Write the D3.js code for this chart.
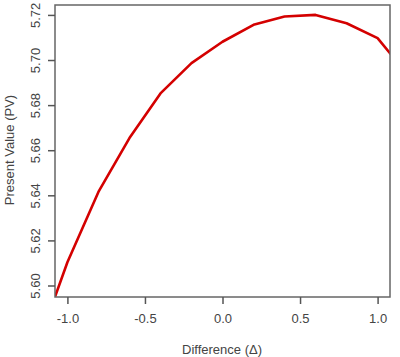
<!DOCTYPE html>
<html>
<head>
<meta charset="utf-8">
<script src="https://cdn.jsdelivr.net/npm/d3@7"></script>
<style>
  body { margin: 0; background: #fff; }
  svg text { font-family: "Liberation Sans", Arial, sans-serif; fill: #444; }
</style>
</head>
<body>
<div id="chart"></div>
<script>
// Difference (delta) values and the present value
const deltas = [-1.2, -1.0, -0.8, -0.6, -0.4, -0.2, 0.0, 0.2, 0.4, 0.6, 0.8, 1.0, 1.2]
const presentValues = [5.572, 5.6103, 5.6415, 5.6654, 5.6852, 5.6986, 5.7081, 5.7156, 5.7193, 5.7200, 5.7163, 5.7097, 5.693]

const xTicks = [-1.0, -0.5, 0.0, 0.5, 1.0]
const yTicks = [5.60, 5.62, 5.64, 5.66, 5.68, 5.70, 5.72]

const width = 400, height = 357
const plot = {left: 55, top: 5, right: 390, bottom: 297}

const xScale = d3.scaleLinear().domain([-1.08, 1.08]).range([plot.left, plot.right])
const yScale = d3.scaleLinear().domain([5.5949, 5.7244]).range([plot.bottom, plot.top])

const svg = d3.select("#chart")
  .append("svg")
  .attr("width", width)
  .attr("height", height)

svg.append("clipPath")
  .attr("id", "plotClip")
  .append("rect")
  .attr("x", plot.left)
  .attr("y", plot.top)
  .attr("width", plot.right - plot.left)
  .attr("height", plot.bottom - plot.top)

// Curve
let line = d3.line()
  .x((d, i) => xScale(deltas[i]))
  .y(d => yScale(d))

svg.append("path")
  .datum(presentValues)
  .attr("clip-path", "url(#plotClip)")
  .attr("fill", "none")
  .attr("stroke", "#d40000")
  .attr("stroke-width", 2.6)
  .attr("stroke-linejoin", "round")
  .attr("d", line)

// Box around plot region
svg.append("rect")
  .attr("x", plot.left)
  .attr("y", plot.top)
  .attr("width", plot.right - plot.left)
  .attr("height", plot.bottom - plot.top)
  .attr("fill", "none")
  .attr("stroke", "#666")
  .attr("stroke-width", 1.5)

// X axis
let xAxis = d3.axisBottom(xScale)
  .tickValues(xTicks)
  .tickFormat(d3.format(".1f"))
  .tickSize(7)
  .tickPadding(10)

let gx = svg.append("g")
  .attr("transform", "translate(0," + plot.bottom + ")")
  .call(xAxis)
gx.select(".domain").remove()
gx.selectAll("line").attr("stroke", "#555").attr("stroke-width", 1.5)
gx.selectAll("text").style("font-size", "13px").attr("fill", "#444")
  .text(d => d3.format(".1f")(d).replace("−", "-"))

// Y axis, labels rotated as in base R
let yAxis = d3.axisLeft(yScale)
  .tickValues(yTicks)
  .tickFormat(d3.format(".2f"))
  .tickSize(7)

let gy = svg.append("g")
  .attr("transform", "translate(" + plot.left + ",0)")
  .call(yAxis)
gy.select(".domain").remove()
gy.selectAll("line").attr("stroke", "#555").attr("stroke-width", 1.5)
gy.selectAll("text")
  .style("font-size", "13px")
  .attr("fill", "#444")
  .attr("x", 0)
  .attr("dy", 0)
  .style("text-anchor", "middle")
  .attr("transform", "translate(-15,0) rotate(-90)")

// Axis titles
svg.append("text")
  .attr("x", 222)
  .attr("y", 354)
  .attr("text-anchor", "middle")
  .style("font-size", "13px")
  .text("Difference (Δ)")

svg.append("text")
  .attr("transform", "translate(14,150) rotate(-90)")
  .attr("text-anchor", "middle")
  .style("font-size", "13px")
  .text("Present Value (PV)")
</script>
</body>
</html>
